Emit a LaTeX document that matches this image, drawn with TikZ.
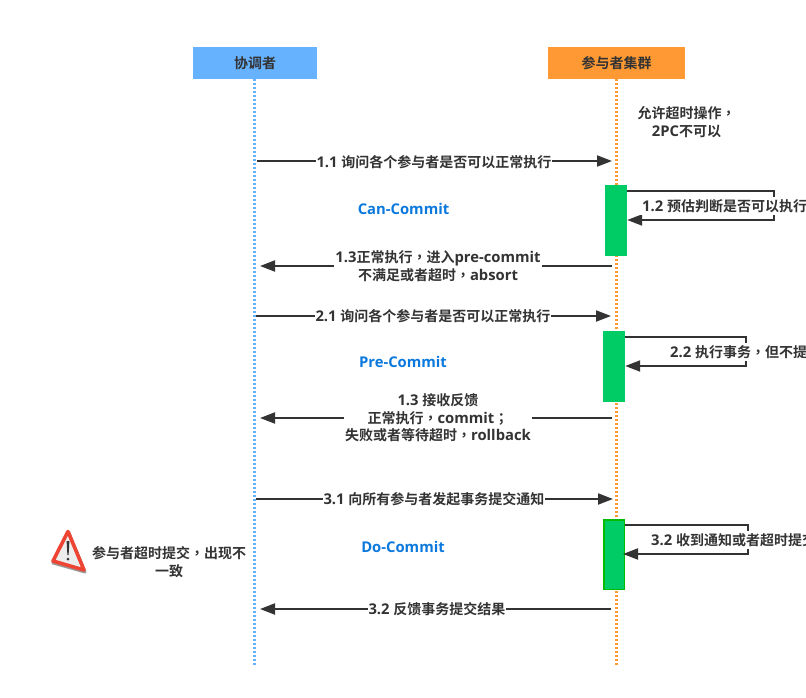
\documentclass[tikz,border=0pt]{standalone}
\usepackage{fontspec}
\usetikzlibrary{arrows.meta}
\setmainfont{Noto Sans CJK SC}[BoldFont={* Bold}]
\newfontfamily\latf{Open Sans}[BoldFont={* Bold}]
\newfontfamily\tcf{Noto Sans CJK TC}[BoldFont={* Bold}]
\newcommand{\lat}[1]{{\fontsize{14.8}{17}\selectfont\latf #1}}
\newcommand{\cma}{{\tcf ，}}
\newcommand{\semi}{{\tcf ；}}
\definecolor{ink}{HTML}{333333}
\definecolor{bluehead}{HTML}{66B2FF}
\definecolor{orangehead}{HTML}{FF9933}
\definecolor{activation}{HTML}{00CC66}
\definecolor{actedge}{HTML}{00BB00}
\definecolor{phase}{HTML}{0A78DC}
\definecolor{warnred}{HTML}{EE4433}
\tikzset{
  x=1pt,y=-1pt,
  head/.style={anchor=center,inner sep=0pt,text=ink,font=\bfseries\fontsize{14}{17}\selectfont,minimum height=32pt},
  msg/.style={draw=ink,line width=2pt,-{Triangle[length=15pt,width=11pt]}},
  lab/.style={fill=white,inner sep=1pt,text=ink,align=center,font=\bfseries\fontsize{14}{17.5}\selectfont},
  freelab/.style={inner sep=0pt,text=ink,align=center,font=\bfseries\fontsize{14}{18.5}\selectfont},
  phaselab/.style={inner sep=0pt,text=phase,font=\bfseries\fontsize{14.8}{17}\selectfont\latf},
  act/.style={fill=activation,draw=none,inner sep=0pt,minimum width=22pt,minimum height=71pt},
}
\begin{document}
\begin{tikzpicture}
\useasboundingbox (0,0) rectangle (806,698);
\clip (0,0) rectangle (806,698);
% headers
\node[head,fill=bluehead,minimum width=124pt] (coord) at (255,63) {协调者};
\node[head,fill=orangehead,minimum width=137pt] (part) at (616.5,63) {参与者集群};
% lifelines
\coordinate (coordEnd) at (254.5,665);
\coordinate (partEnd) at (616.5,665);
\draw[bluehead,line width=2.4pt,dash pattern=on 2pt off 2pt] (254.5,79) -- (coordEnd);
\draw[orangehead,line width=2.4pt,dash pattern=on 2pt off 2pt] (616.5,79) -- (partEnd);
% activations
\node[act] (a1) at (616,220.5) {};
\node[act] (a2) at (614,366.5) {};
\node[act,draw=actedge,line width=1.5pt,minimum width=20.5pt,minimum height=69.5pt] (a3) at (614,554.5) {};
% endpoints
\coordinate (m11s) at (257,161); \coordinate (m11e) at (612,161);
\coordinate (m13s) at (612,266); \coordinate (m13e) at (260,266);
\coordinate (m21s) at (256,316); \coordinate (m21e) at (611,316);
\coordinate (m23s) at (612,418); \coordinate (m23e) at (260,418);
\coordinate (m31s) at (256,499); \coordinate (m31e) at (613,499);
\coordinate (m33s) at (611,609); \coordinate (m33e) at (260,609);
% messages
\draw[msg] (m11s) -- (m11e);
\draw[msg] (m13s) -- (m13e);
\draw[msg] (m21s) -- (m21e);
\draw[msg] (m23s) -- (m23e);
\draw[msg] (m31s) -- (m31e);
\draw[msg] (m33s) -- (m33e);
% self messages
\coordinate (s1a) at (a1.east |- 0,191); \coordinate (s1b) at (a1.east |- 0,220);
\coordinate (s2a) at (a2.east |- 0,337); \coordinate (s2b) at (a2.east |- 0,366);
\coordinate (s3a) at (625,525); \coordinate (s3b) at (623,554);
\draw[msg] (s1a) -- (774,191) -- (774,220) -- (s1b);
\draw[msg] (s2a) -- (746,337) -- (746,366) -- (s2b);
\draw[msg] (s3a) -- (748,525) -- (748,554) -- (s3b);
% labels
\node[lab] (l11) at (434,162) {\lat{1.1 }询问各个参与者是否可以正常执行};
\node[lab] (l13) at (438,266) {\lat{1.3}正常执行\cma 进入\lat{pre-commit}\\不满足或者超时\cma\lat{absort}};
\node[lab] (l21) at (433,316.5) {\lat{2.1 }询问各个参与者是否可以正常执行};
\node[lab,minimum width=186pt] (l23) at (438,418) {\lat{1.3 }接收反馈\\正常执行\cma\lat{commit}\semi\\失败或者等待超时\cma\lat{rollback}};
\node[lab] (l31) at (434,499.5) {\lat{3.1 }向所有参与者发起事务提交通知};
\node[lab] (l33) at (437,609.5) {\lat{3.2 }反馈事务提交结果};
\node[lab,anchor=west,inner sep=2pt] (l12) at (640,206) {\lat{1.2 }预估判断是否可以执行};
\node[lab,anchor=west,inner sep=2pt] (l22) at (668,352) {\lat{2.2 }执行事务\cma 但不提};
\node[lab,anchor=west,inner sep=2pt] (l32) at (649,540) {\lat{3.2 }收到通知或者超时提交};
\node[freelab] (note1) at (686.5,122) {允许超时操作\cma\\\lat{2PC}不可以};
\node[freelab] (note2) at (169,562) {参与者超时提交\cma 出现不\\一致};
\node[phaselab] (p1) at (403.5,209) {Can-Commit};
\node[phaselab] (p2) at (403,362) {Pre-Commit};
\node[phaselab] (p3) at (403,547) {Do-Commit};
% warning icon
\fill[black!40,line join=round,draw=black!40,line width=3pt] (68.5,532) -- (53,563) -- (85,572) -- cycle;
\filldraw[fill=black!7,draw=warnred,line join=round,line width=3.6pt] (68,531.5) -- (53,561) -- (84,570) -- cycle;
\fill[black!80] (66.6,541) -- (69.4,541) -- (68.6,555) -- (67.4,555) -- cycle;
\fill[black!80] (68,559) circle (1.5);
\end{tikzpicture}
\end{document}
